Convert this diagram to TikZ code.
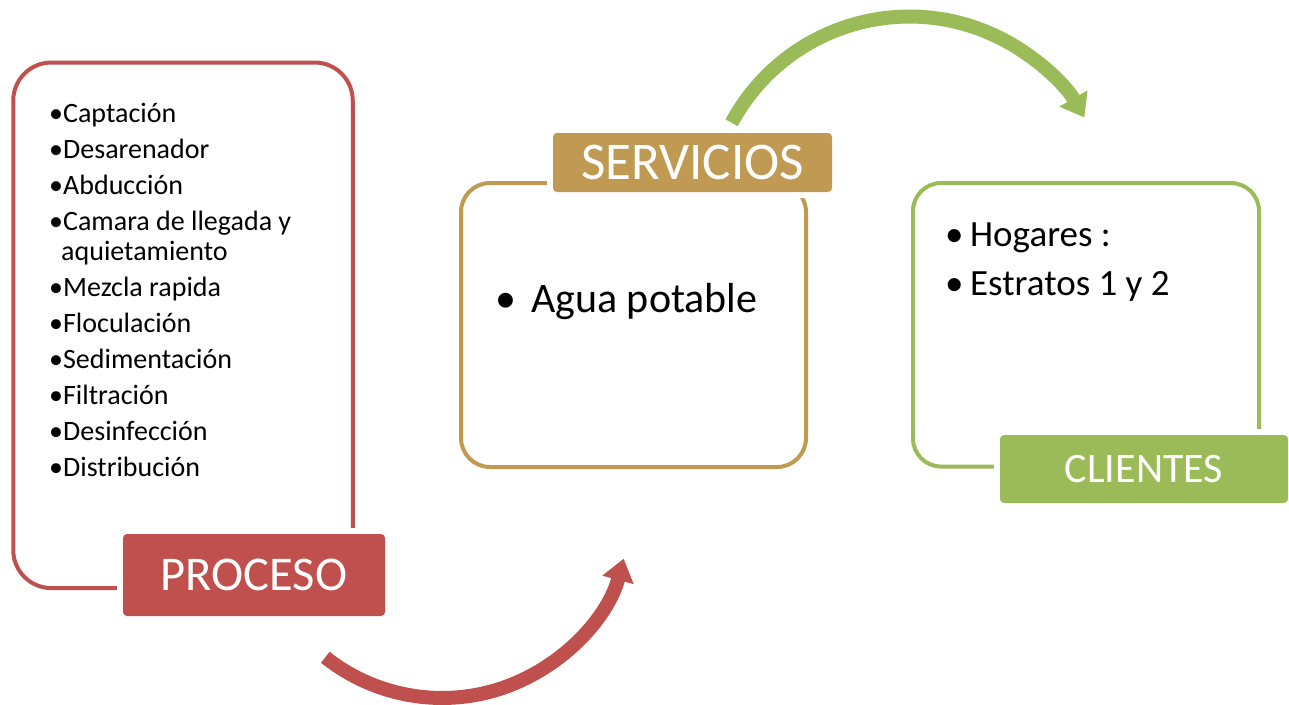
\documentclass[tikz,border=0pt]{standalone}
\usepackage{fontspec}
\setmainfont{Carlito}
\usetikzlibrary{arrows.meta}
\definecolor{pred}{HTML}{C0504D}
\definecolor{ptan}{HTML}{C09A52}
\definecolor{pgreen}{HTML}{9BBB59}
\tikzset{
  outerbox/.style={draw=#1, line width=4pt, inner sep=0pt, fill=white},
  lblbox/.style={fill=#1, rounded corners=4pt, inner sep=0pt, text=white,
    preaction={draw=white, line width=12pt}},
  listitem/.style={anchor=base west, inner sep=0pt, font=\fontsize{28}{32}\selectfont},
  bigarrow/.style={draw=#1, line width=14pt, -{Triangle[width=31pt,length=22pt]}}
}
\begin{document}
\begin{tikzpicture}[x=1pt,y=-1pt]
\useasboundingbox (0,0) rectangle (1289,704);
% PROCESO
\node (pbox) [outerbox=pred, rounded corners=38pt, minimum width=339.5pt, minimum height=525.5pt] at (183,325.3) {};
\node (plbl) [lblbox=pred, minimum width=262pt, minimum height=82pt, font=\fontsize{48.5}{54}\selectfont] at (254,575) {PROCESO};
\node (i1) [listitem] at (49,122.7) {•Captación};
\node (i2) [listitem] at (49,158.3) {•Desarenador};
\node (i3) [listitem] at (49,194) {•Abducción};
\node (i4) [listitem] at (49,230) {•Camara de llegada y};
\node (i4b) [listitem] at (61,260) {aquietamiento};
\node (i5) [listitem] at (49,296.5) {•Mezcla rapida};
\node (i6) [listitem] at (49,332.3) {•Floculación};
\node (i7) [listitem] at (49,368.3) {•Sedimentación};
\node (i8) [listitem] at (49,404.3) {•Filtración};
\node (i9) [listitem] at (49,440) {•Desinfección};
\node (i10) [listitem] at (49,476) {•Distribución};
% SERVICIOS
\node (sbox) [outerbox=ptan, rounded corners=29pt, minimum width=345pt, minimum height=284pt] at (633.5,325) {};
\node (slbl) [lblbox=ptan, minimum width=279pt, minimum height=59pt, font=\fontsize{53}{58}\selectfont] at (692.5,162.5) {SERVICIOS};
\node (s1) [anchor=base west, inner sep=0pt, font=\fontsize{42}{48}\selectfont] at (495,312.7) {\makebox[36pt][l]{•}Agua potable};
% CLIENTES
\node (cbox) [outerbox=pgreen, rounded corners=28pt, minimum width=346pt, minimum height=283.5pt] at (1086,324.8) {};
\node (clbl) [lblbox=pgreen, minimum width=288pt, minimum height=68pt, font=\fontsize{42}{48}\selectfont] at (1144,469) {CLIENTES};
\node (c1) [anchor=base west, inner sep=0pt, font=\fontsize{37}{42}\selectfont] at (945,246.7) {\makebox[25pt][l]{•}Hogares :};
\node (c2) [anchor=base west, inner sep=0pt, font=\fontsize{37}{42}\selectfont] at (945,295) {\makebox[25pt][l]{•}Estratos 1 y 2};
% arrows
\coordinate (ra) at (325.3,657.3);
\draw[bigarrow=pred] (ra) arc[start angle=128.4, end angle=15, radius=188];
\coordinate (ga) at (731.6,122.8);
\draw[bigarrow=pgreen] (ga) arc[start angle=-151.7, end angle=-30, radius=202];
\end{tikzpicture}
\end{document}
